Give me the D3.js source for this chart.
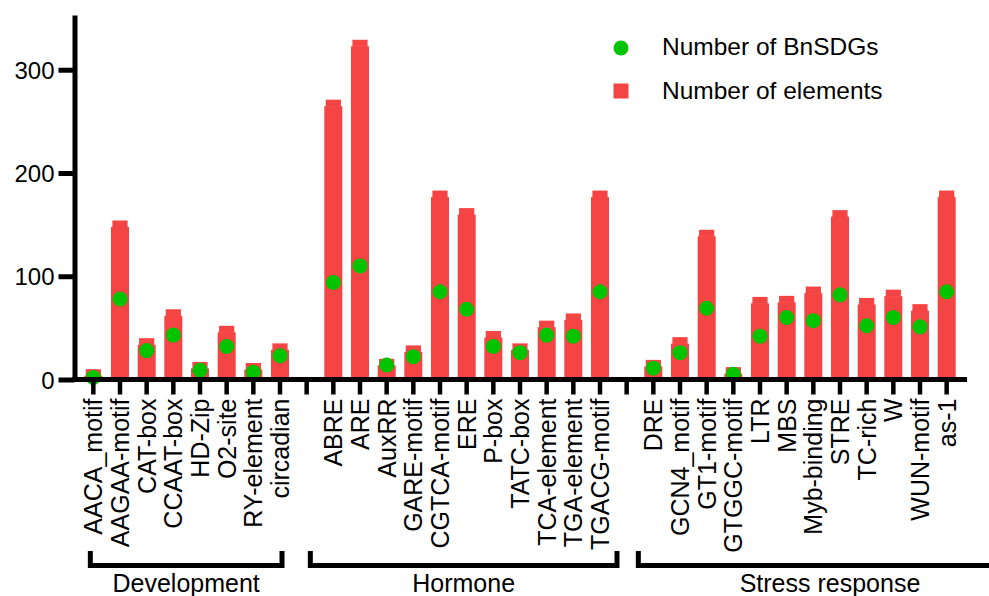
<!DOCTYPE html>
<html>
<head>
<meta charset="utf-8">
<script src="https://cdn.jsdelivr.net/npm/d3@7"></script>
<style>
  body { margin: 0; background: #fff; }
  text { font-family: "Liberation Sans", Arial, Helvetica, sans-serif; fill: #000; }
</style>
</head>
<body>
<div id="chart"></div>
<script>
// motifs per group, counts
const devMotifs = ["AACA_motif", "AAGAA-motif", "CAT-box", "CCAAT-box", "HD-Zip", "O2-site", "RY-element", "circadian"];
const devElements = [10, 154, 40, 68, 17, 52, 16, 35];
const devGenes = [2, 78, 28, 43, 9, 32, 7, 23];

const hormoneMotifs = ["ABRE", "ARE", "AuxRR", "GARE-motif", "CGTCA-motif", "ERE", "P-box", "TATC-box", "TCA-element", "TGA-element", "TGACG-motif"];
const hormoneElements = [271, 329, 20, 33, 183, 166, 47, 35, 57, 64, 183];
const hormoneGenes = [94, 110, 14, 22, 85, 68, 32, 26, 43, 42, 85];

const stressMotifs = ["DRE", "GCN4_motif", "GT1-motif", "GTGGC-motif", "LTR", "MBS", "Myb-binding", "STRE", "TC-rich", "W", "WUN-motif", "as-1"];
const stressElements = [19, 41, 145, 12, 80, 81, 90, 164, 79, 87, 73, 183];
const stressGenes = [11, 26, 69, 5, 42, 60, 57, 82, 52, 60, 51, 85];

const groupNames = ["Development", "Hormone", "Stress response"];
const yTicks = [0, 100, 200, 300];
const legendLabels = ["Number of BnSDGs", "Number of elements"];

const RED = "#f54444";
const GREEN = "#00c400";

document.addEventListener("DOMContentLoaded", () => {
  const W = 989, H = 596;
  const svg = d3.select("#chart").append("svg")
    .attr("width", W).attr("height", H)
    .attr("viewBox", `0 0 ${W} ${H}`);

  const groups = [
    {name: groupNames[0], motifs: devMotifs, el: devElements, gn: devGenes},
    {name: groupNames[1], motifs: hormoneMotifs, el: hormoneElements, gn: hormoneGenes},
    {name: groupNames[2], motifs: stressMotifs, el: stressElements, gn: stressGenes}
  ];

  // flat rows + empty slot between groups
  const rows = [];
  const slots = [];
  groups.forEach((g, gi) => {
    g.motifs.forEach((m, i) => {
      rows.push({motif: m, elements: g.el[i], genes: g.gn[i], group: g.name});
      slots.push(m);
    });
    if (gi < groups.length - 1) slots.push("gap" + gi);
  });

  const x = d3.scaleBand()
    .domain(slots)
    .range([80, 960])
    .paddingInner(0.325)
    .paddingOuter(0.1625);
  const cx = d => x(d) + x.bandwidth() / 2;

  const y = d3.scaleLinear()
    .domain([0, 353])
    .range([379.5, 15]);

  // bars (with the slightly narrower cap on top)
  const bars = svg.append("g");
  bars.selectAll("rect.body")
    .data(rows)
    .join("rect")
    .attr("class", "body")
    .attr("x", d => x(d.motif))
    .attr("width", x.bandwidth())
    .attr("y", d => Math.min(y(d.elements) + 6.5, y(0)))
    .attr("height", d => Math.max(0, y(0) - y(d.elements) - 6.5))
    .attr("fill", RED);
  bars.selectAll("rect.cap")
    .data(rows)
    .join("rect")
    .attr("class", "cap")
    .attr("x", d => x(d.motif) + 1.4)
    .attr("width", x.bandwidth() - 2.8)
    .attr("y", d => y(d.elements))
    .attr("height", d => Math.min(7, y(0) - y(d.elements)))
    .attr("fill", RED);

  // dots
  svg.append("g")
    .selectAll("circle")
    .data(rows)
    .join("circle")
    .attr("cx", d => cx(d.motif))
    .attr("cy", d => y(d.genes))
    .attr("r", 7.5)
    .attr("fill", GREEN);

  // y axis
  const yAxis = d3.axisLeft(y)
    .tickValues(yTicks)
    .tickSize(16)
    .tickSizeOuter(0)
    .tickPadding(4);
  const gy = svg.append("g")
    .attr("transform", "translate(74.5,0)")
    .call(yAxis);
  gy.select(".domain").attr("stroke-width", 5).attr("stroke", "#000");
  gy.selectAll(".tick line").attr("stroke-width", 5).attr("stroke", "#000");
  gy.selectAll(".tick text").style("font-size", "24px").attr("dy", "0.36em");

  // x axis
  const xAxis = d3.axisBottom(x)
    .tickSize(15)
    .tickSizeOuter(0)
    .tickFormat(d => d.startsWith("gap") ? "" : d);
  const gx = svg.append("g")
    .attr("transform", `translate(0,${y(0)})`)
    .call(xAxis);
  gx.select(".domain").remove();
  gx.append("line")
    .attr("x1", 72).attr("x2", 967)
    .attr("y1", 0).attr("y2", 0)
    .attr("stroke", "#000").attr("stroke-width", 5);
  gx.selectAll(".tick line").attr("stroke-width", 4.5).attr("stroke", "#000");
  gx.selectAll(".tick text")
    .style("font-size", "25px")
    .attr("transform", "rotate(-90)")
    .attr("text-anchor", "end")
    .attr("x", -19)
    .attr("y", 0)
    .attr("dy", "0.36em");

  // group brackets
  const bracketPad = [[-3, 2], [-23, 17], [-15, 75]];
  const bracketY = 565.5, bracketTop = 551;
  groups.forEach((g, i) => {
    const x0 = cx(g.motifs[0]) + bracketPad[i][0];
    const x1 = cx(g.motifs[g.motifs.length - 1]) + bracketPad[i][1];
    svg.append("path")
      .attr("d", `M${x0},${bracketTop}V${bracketY}H${x1}V${bracketTop}`)
      .attr("fill", "none")
      .attr("stroke", "#000")
      .attr("stroke-width", 5);
    svg.append("text")
      .attr("x", (x0 + x1) / 2)
      .attr("y", 592)
      .attr("text-anchor", "middle")
      .style("font-size", "25px")
      .text(g.name);
  });

  // legend
  const lg = svg.append("g").attr("transform", "translate(621,48)");
  lg.append("circle").attr("cx", 0).attr("cy", 0).attr("r", 7.5).attr("fill", GREEN);
  lg.append("rect").attr("x", -7.5).attr("y", 35.5).attr("width", 15).attr("height", 15).attr("fill", RED);
  lg.selectAll("text")
    .data(legendLabels)
    .join("text")
    .attr("x", 41)
    .attr("y", (d, i) => 7 + i * 44)
    .style("font-size", "24.5px")
    .text(d => d);
});
</script>
</body>
</html>
